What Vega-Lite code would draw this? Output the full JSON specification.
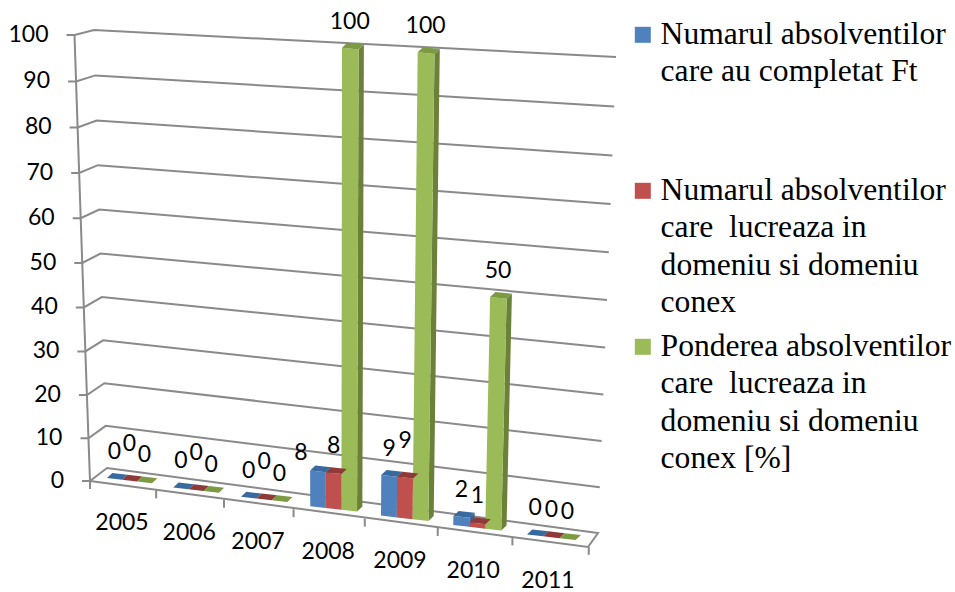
{
"$schema":"https://vega.github.io/schema/vega-lite/v6.json",
"width":955,"height":592,"padding":0,"autosize":{"type":"none"},
"background":"white",
"config":{"view":{"stroke":null},"axis":{"disable":true}},
"datasets":{
"grid":[{"value":0},{"value":10},{"value":20},{"value":30},{"value":40},{"value":50},{"value":60},{"value":70},{"value":80},{"value":90},{"value":100}],
"cats":[{"year":"2005","j":0},{"year":"2006","j":1},{"year":"2007","j":2},{"year":"2008","j":3},{"year":"2009","j":4},{"year":"2010","j":5},{"year":"2011","j":6},{"year":"","j":7}],
"bars":[
{"year":2005,"series":"Numarul absolventilor care au completat Ft","value":0},
{"year":2005,"series":"Numarul absolventilor care  lucreaza in domeniu si domeniu conex","value":0},
{"year":2005,"series":"Ponderea absolventilor care  lucreaza in domeniu si domeniu conex [%]","value":0},
{"year":2006,"series":"Numarul absolventilor care au completat Ft","value":0},
{"year":2006,"series":"Numarul absolventilor care  lucreaza in domeniu si domeniu conex","value":0},
{"year":2006,"series":"Ponderea absolventilor care  lucreaza in domeniu si domeniu conex [%]","value":0},
{"year":2007,"series":"Numarul absolventilor care au completat Ft","value":0},
{"year":2007,"series":"Numarul absolventilor care  lucreaza in domeniu si domeniu conex","value":0},
{"year":2007,"series":"Ponderea absolventilor care  lucreaza in domeniu si domeniu conex [%]","value":0},
{"year":2008,"series":"Numarul absolventilor care au completat Ft","value":8},
{"year":2008,"series":"Numarul absolventilor care  lucreaza in domeniu si domeniu conex","value":8},
{"year":2008,"series":"Ponderea absolventilor care  lucreaza in domeniu si domeniu conex [%]","value":100},
{"year":2009,"series":"Numarul absolventilor care au completat Ft","value":9},
{"year":2009,"series":"Numarul absolventilor care  lucreaza in domeniu si domeniu conex","value":9},
{"year":2009,"series":"Ponderea absolventilor care  lucreaza in domeniu si domeniu conex [%]","value":100},
{"year":2010,"series":"Numarul absolventilor care au completat Ft","value":2},
{"year":2010,"series":"Numarul absolventilor care  lucreaza in domeniu si domeniu conex","value":1},
{"year":2010,"series":"Ponderea absolventilor care  lucreaza in domeniu si domeniu conex [%]","value":50},
{"year":2011,"series":"Numarul absolventilor care au completat Ft","value":0},
{"year":2011,"series":"Numarul absolventilor care  lucreaza in domeniu si domeniu conex","value":0},
{"year":2011,"series":"Ponderea absolventilor care  lucreaza in domeniu si domeniu conex [%]","value":0}
]},
"encoding":{
 "x":{"type":"quantitative","scale":{"domain":[0,955],"range":[0,955],"nice":false,"zero":false},"axis":null},
 "y":{"type":"quantitative","scale":{"domain":[0,592],"range":[0,592],"nice":false,"zero":false},"axis":null}
},
"layer":[
{"data":{"name":"grid"},
 "transform":[
  {"calculate":"datum.value/100","as":"v"},
  {"calculate":"90-15.5*datum.v","as":"fx"},
  {"calculate":"481-426*datum.v-20*datum.v*datum.v","as":"fy"},
  {"calculate":"[0,1,2,3,4,5]","as":"ks"},{"flatten":["ks"],"as":["k"]},
  {"filter":"datum.k<=3 || datum.value==0"},
  {"calculate":"datum.k==0?datum.fx-8:datum.k==1?datum.fx:datum.k==2?107-13*datum.v:datum.k==3?598+18*datum.v:datum.k==4?588:90","as":"px"},
  {"calculate":"datum.k<=1?datum.fy:datum.k==2?468-420*datum.v-18*datum.v*datum.v:datum.k==3?533-456*datum.v-20*datum.v*datum.v:datum.k==4?547:481","as":"py"}],
 "mark":{"type":"line","color":"#8a8a8a","strokeWidth":2},
 "encoding":{"x":{"field":"px"},"y":{"field":"py"},"detail":{"field":"value"},"order":{"field":"k"}}},
{"data":{"name":"grid"},
 "transform":[
  {"calculate":"datum.value/100","as":"v"},
  {"calculate":"90-15.5*datum.v","as":"fx"},
  {"calculate":"481-426*datum.v-20*datum.v*datum.v","as":"fy"}],
 "layer":[
 {"mark":{"type":"line","color":"#8a8a8a","strokeWidth":2},
  "encoding":{"x":{"field":"fx"},"y":{"field":"fy"},"order":{"field":"value"}}},
 {"transform":[{"calculate":"datum.fx-26","as":"lx"}],
  "mark":{"type":"text","align":"right","baseline":"middle","font":"Lato","fontSize":23,"color":"#000000"},
  "encoding":{"x":{"field":"lx"},"y":{"field":"fy"},"text":{"field":"value","type":"quantitative"}}}
 ]},
{"data":{"name":"cats"},
 "transform":[
  {"calculate":"90+65.3*datum.j+0.85*datum.j*datum.j","as":"tx"},
  {"calculate":"481+9.4*datum.j","as":"ty"},
  {"calculate":"datum.ty+8","as":"ty2"},
  {"calculate":"122+66.5*datum.j+0.75*datum.j*datum.j","as":"lx"},
  {"calculate":"523+9.6*datum.j","as":"ly"}],
 "layer":[
 {"mark":{"type":"rule","color":"#8a8a8a","strokeWidth":2},
  "encoding":{"x":{"field":"tx"},"y":{"field":"ty"},"y2":{"field":"ty2"}}},
 {"mark":{"type":"text","align":"center","baseline":"middle","font":"Lato","fontSize":23,"color":"#000000"},
  "encoding":{"x":{"field":"lx"},"y":{"field":"ly"},"text":{"field":"year","type":"nominal"}}}
 ]},
{"data":{"name":"bars"},
 "transform":[
  {"calculate":"datum.year-2005","as":"i"},
  {"calculate":"indexof(datum.series,'Ponderea')==0?2:indexof(datum.series,'Ft')>0?0:1","as":"s"},
  {"calculate":"datum.value/100","as":"v"},
  {"calculate":"15+0.2*datum.i","as":"w"},
  {"calculate":"107+65.5*datum.i+0.75*datum.i*datum.i+datum.s*datum.w","as":"xL"},
  {"calculate":"478+9.4*datum.i+0.115*datum.s*datum.w","as":"yb"},
  {"calculate":"(445*datum.v+17*datum.v*datum.v)*(1+(datum.i-3)*0.011)","as":"h"}],
 "layer":[
 {"transform":[
   {"calculate":"[0,1,2,3]","as":"ks"},{"flatten":["ks"],"as":["k"]},
   {"calculate":"1","as":"a"},
   {"calculate":"datum.k>=2?1:0","as":"b"},
   {"calculate":"(datum.k==1||datum.k==2)?1:0","as":"d"},
   {"calculate":"datum.xL+datum.a*datum.w","as":"x0"},
   {"calculate":"datum.x0+datum.b*datum.v*(-15.5+0.0638*(datum.x0-90))+datum.d*5.3","as":"px"},
   {"calculate":"datum.yb+0.115*datum.a*datum.w-datum.b*datum.h-datum.d*5","as":"py"}],
  "mark":{"type":"line","strokeWidth":0,"filled":true},
  "encoding":{"x":{"field":"px"},"y":{"field":"py"},
   "detail":[{"field":"year"},{"field":"s"}],"order":{"field":"k"},
   "fill":{"field":"series","type":"nominal","sort":null,"scale":{"range":["#3a6595","#953a38","#6b8039"]},"legend":null}}},
 {"transform":[
   {"calculate":"[0,1,2,3]","as":"ks"},{"flatten":["ks"],"as":["k"]},
   {"calculate":"(datum.k==1||datum.k==2)?1:0","as":"a"},
   {"calculate":"datum.k>=2?1:0","as":"b"},
   {"calculate":"datum.xL+datum.a*datum.w","as":"x0"},
   {"calculate":"datum.x0+datum.b*datum.v*(-15.5+0.0638*(datum.x0-90))","as":"px"},
   {"calculate":"datum.yb+0.115*datum.a*datum.w-datum.b*datum.h","as":"py"}],
  "mark":{"type":"line","strokeWidth":0,"filled":true},
  "encoding":{"x":{"field":"px"},"y":{"field":"py"},
   "detail":[{"field":"year"},{"field":"s"}],"order":{"field":"k"},
   "fill":{"field":"series","type":"nominal","sort":null,"scale":{"range":["#4f81bd","#c0504d","#9bbb59"]},
    "legend":{"title":null,"orient":"none","legendX":627,"legendY":19,"labelFont":"Liberation Serif","labelFontSize":31.6,"labelColor":"#000","labelLimit":400,"symbolType":"square","symbolSize":256,"symbolStrokeWidth":0,"labelOffset":2,"rowPadding":11,
     "labelExpr":"split(replace(replace(replace(datum.label,regexp(' (?=care|domeniu si|conex)','g'),'|'),' Ft',' Ft| | '),'  ','\u00a0 '),'|')",
     "encoding":{"labels":{"lineHeight":{"value":37.5}}}}}}},
 {"transform":[
   {"calculate":"[0,1,2,3]","as":"ks"},{"flatten":["ks"],"as":["k"]},
   {"calculate":"(datum.k==1||datum.k==2)?1:0","as":"a"},
   {"calculate":"datum.k>=2?1:0","as":"d"},
   {"calculate":"datum.xL+datum.a*datum.w","as":"x0"},
   {"calculate":"datum.x0+datum.v*(-15.5+0.0638*(datum.x0-90))+datum.d*5.3","as":"px"},
   {"calculate":"datum.yb+0.115*datum.a*datum.w-datum.h-datum.d*5","as":"py"}],
  "mark":{"type":"line","strokeWidth":0,"filled":true},
  "encoding":{"x":{"field":"px"},"y":{"field":"py"},
   "detail":[{"field":"year"},{"field":"s"}],"order":{"field":"k"},
   "fill":{"field":"series","type":"nominal","sort":null,"scale":{"range":["#386a9f","#8f3a38","#7b9a42"]},"legend":null}}},
 {"transform":[
   {"calculate":"datum.xL+datum.w/2+datum.v*(-15.5+0.0638*(datum.xL-90))+(datum.year==2008&&datum.s==0?-17:0)","as":"lx"},
   {"calculate":"datum.yb+0.9-datum.h-(datum.year==2008&&datum.s==0?18:(datum.s==1&&(datum.i<=2||datum.i==4))?37:27)","as":"ly"}],
  "mark":{"type":"text","align":"center","baseline":"middle","font":"Lato","fontSize":23,"color":"#000000"},
  "encoding":{"x":{"field":"lx"},"y":{"field":"ly"},"text":{"field":"value","type":"quantitative"}}}
 ],
 "resolve":{"scale":{"fill":"independent"}}}
]
}
